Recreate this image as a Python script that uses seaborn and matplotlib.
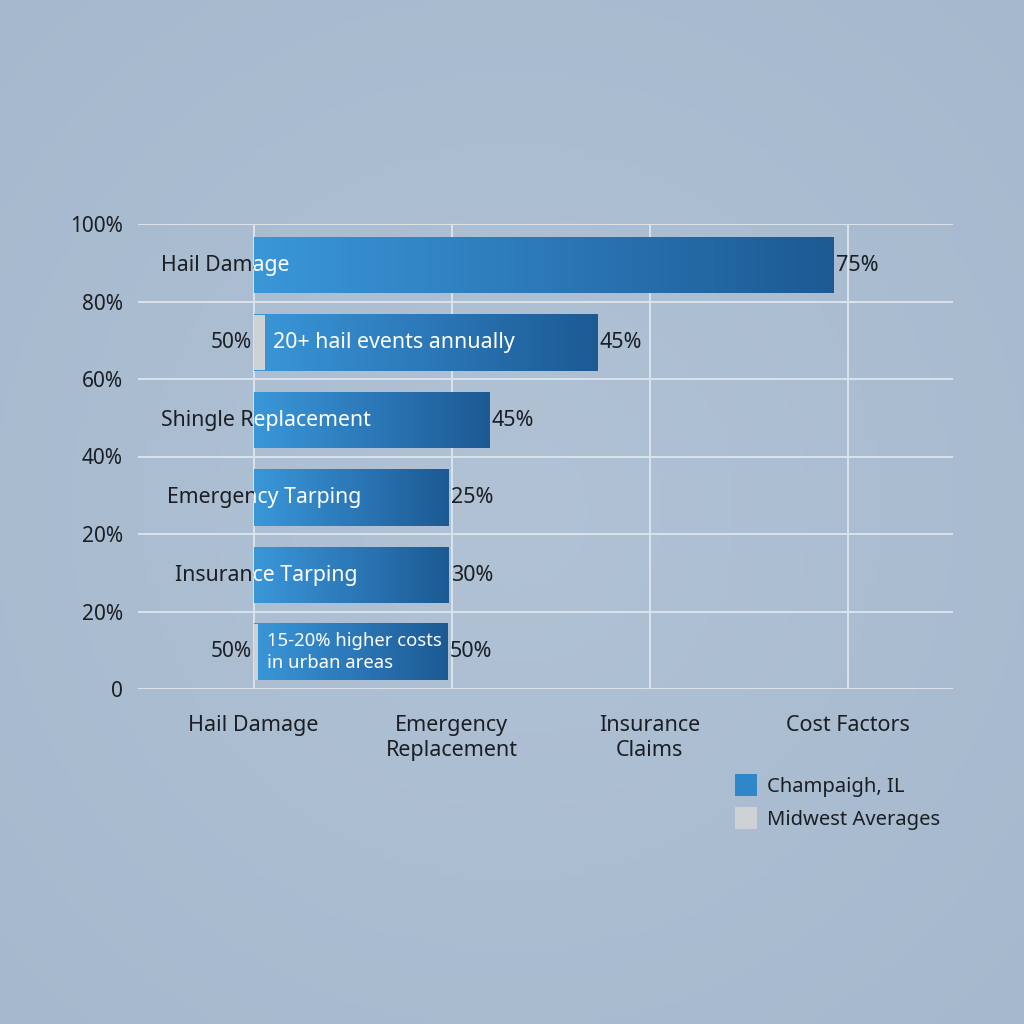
import numpy as np
import pandas as pd
import matplotlib
matplotlib.use("Agg")
import matplotlib.pyplot as plt
import seaborn as sns
from matplotlib.colors import LinearSegmentedColormap
from matplotlib.patches import Patch
from matplotlib.transforms import Bbox, TransformedBbox

# dados (linha de cima pra baixo)
rows = [5.47, 4.47, 3.47, 2.47, 1.47, 0.48]
champaign_end = [73.2, 43.4, 29.7, 24.6, 24.6, 24.4]
midwest_width = [0, 1.4, 0, 0, 0, 0.6]
value_labels = ["75%", "45%", "45%", "25%", "30%", "50%"]
midwest_labels = ["", "50%", "", "", "", "50%"]
row_names = ["Hail Damage", "", "Shingle Replacement", "Emergency Tarping", "Insurance Tarping", ""]
row_name_x = [-11.7, 0, -11.7, -11.0, -9.9, 0]
inner_notes = ["", "20+ hail events annually", "", "", "", "15-20% higher costs\nin urban areas"]

x_ticks = [0, 25, 50, 75]
x_labels = ["Hail Damage", "Emergency\nReplacement", "Insurance\nClaims", "Cost Factors"]
y_ticks = [0, 1, 2, 3, 4, 5, 6]
y_labels = ["0", "20%", "20%", "40%", "60%", "80%", "100%"]

bg = "#acbed2"
grid_c = "#dbe3ec"
dark = "#1b1f24"
light_blue = "#3a97d8"
deep_blue = "#1c5a93"
gray = "#cfd2d4"

sns.set_style("white")
plt.rcParams['font.family'] = ['Noto Sans', 'DejaVu Sans']

fig = plt.figure(figsize=(10.24, 10.24), dpi=100)
fig.patch.set_facecolor(bg)

# fundo com vinheta leve
bg_ax = fig.add_axes([0, 0, 1, 1], zorder=-10)
yy, xx = np.mgrid[-1:1:200j, -1:1:200j]
r = np.sqrt(xx ** 2 + yy ** 2)
bg_cmap = LinearSegmentedColormap.from_list("bg", ["#b1c2d5", "#a5b8cd"])
bg_ax.imshow(r, cmap=bg_cmap, extent=(0, 1, 0, 1), aspect="auto", vmin=0, vmax=1.45)
bg_ax.axis("off")

ax = fig.add_axes([138 / 1024, 1 - 689 / 1024, 815 / 1024, 465 / 1024])
ax.set_facecolor("none")

df = pd.DataFrame({"pos": rows, "end": champaign_end})
sns.barplot(data=df, x="end", y="pos", orient="y", native_scale=True,
            color=light_blue, width=0.74, ax=ax, zorder=3, linewidth=0)
ax.barh(rows, midwest_width, height=0.72, color=gray, zorder=4, linewidth=0)

ax.set_xlim(-14.6, 88.3)
ax.set_ylim(0, 6)

# gradiente nas barras
grad_cmap = LinearSegmentedColormap.from_list("bar", [light_blue, "#2c78b8", deep_blue])
grad = np.linspace(0, 1, 256).reshape(1, -1)
bar_patches = [p for p in ax.patches if p.get_facecolor()[2] > 0.5 and p.get_width() > 5]
bar_patches = sorted(bar_patches, key=lambda p: -p.get_y())
for p in bar_patches:
    x0, y0, w, h = p.get_x(), p.get_y(), p.get_width(), p.get_height()
    im = ax.imshow(grad, cmap=grad_cmap, extent=(x0, x0 + w, y0, y0 + h),
                   aspect="auto", zorder=3.5, interpolation="bicubic")
    im.set_clip_path(p)
ax.set_xlim(-14.6, 88.3)
ax.set_ylim(0, 6)

for i, p in enumerate(bar_patches):
    y = rows[i]
    ax.text(champaign_end[i] + 0.3, y, value_labels[i], ha="left", va="center",
            fontsize=15.5, color=dark, zorder=6)
    if midwest_labels[i]:
        ax.text(-0.2, y, midwest_labels[i], ha="right", va="center",
                fontsize=15, color=dark, zorder=6)
    if row_names[i]:
        # texto escuro fora da barra, branco dentro
        ax.text(row_name_x[i], y, row_names[i], ha="left", va="center",
                fontsize=15.3, color=dark, zorder=2)
        t = ax.text(row_name_x[i], y, row_names[i], ha="left", va="center",
                    fontsize=15.3, color="white", zorder=6)
        box = Bbox.from_extents(p.get_x(), p.get_y(), p.get_x() + p.get_width(),
                                p.get_y() + p.get_height())
        t.set_clip_box(TransformedBbox(box, ax.transData))
        t.set_clip_on(True)
    if inner_notes[i]:
        fs = 15.4 if "\n" not in inner_notes[i] else 13.3
        ax.text(midwest_width[i] + 1.1, y, inner_notes[i], ha="left", va="center",
                fontsize=fs, color="white", zorder=6, linespacing=1.3)

ax.set_xticks(x_ticks)
ax.set_xticklabels(x_labels, fontsize=15.5, color=dark, linespacing=1.25, va="top")
ax.set_yticks(y_ticks)
ax.set_yticklabels(y_labels, fontsize=15, color=dark)
ax.tick_params(axis="both", length=0)
ax.tick_params(axis="x", pad=19)
ax.tick_params(axis="y", pad=11)
ax.set_xlabel("")
ax.set_ylabel("")
ax.grid(True, color=grid_c, linewidth=1.4, zorder=0)
ax.set_axisbelow(True)
sns.despine(ax=ax, left=True, bottom=True)

handles = [Patch(facecolor="#2f86c8", edgecolor="none", label="Champaigh, IL"),
           Patch(facecolor=gray, edgecolor="none", label="Midwest Averages")]
fig.legend(handles=handles, loc="upper left", bbox_to_anchor=(717 / 1024, 1 - 756 / 1024),
           frameon=False, fontsize=14.5, handlelength=1.1, handleheight=1.3,
           handletextpad=0.5, labelspacing=0.5, labelcolor=dark)

fig.savefig("out.png", dpi=100, facecolor=bg)
